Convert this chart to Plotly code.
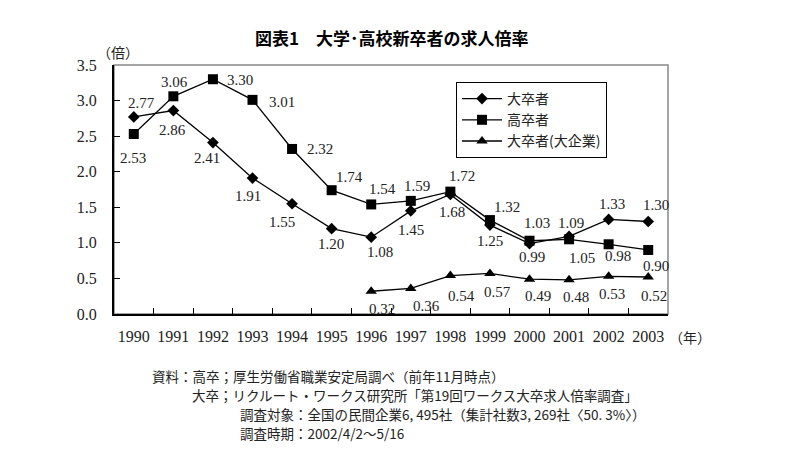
import plotly.graph_objects as go

years = ["1990", "1991", "1992", "1993", "1994", "1995", "1996", "1997",
         "1998", "1999", "2000", "2001", "2002", "2003"]
daisotsu = [2.77, 2.86, 2.41, 1.91, 1.55, 1.20, 1.08, 1.45, 1.68, 1.25, 0.99, 1.09, 1.33, 1.30]
kousotsu = [2.53, 3.06, 3.30, 3.01, 2.32, 1.74, 1.54, 1.59, 1.72, 1.32, 1.03, 1.05, 0.98, 0.90]
daikigyou = [None, None, None, None, None, None, 0.32, 0.36, 0.54, 0.57, 0.49, 0.48, 0.53, 0.52]
series_names = ["大卒者", "高卒者", "大卒者(大企業)"]
y_ticks = [0.0, 0.5, 1.0, 1.5, 2.0, 2.5, 3.0, 3.5]

# label offsets (pixels) per point: (xshift, yshift)
off_dai = [(8, 14), (-1, -19), (-6, -15), (-5, -18), (-10, -18), (-1, -15), (9, -15),
           (0, -19), (2, -18), (0, -16), (2, -13), (2, 13), (3, 15), (8, 17)]
off_kou = [(-1, -24), (1, 14), (27, -1), (29, -2), (28, 0), (18, 13), (11, 15),
           (6, 15), (12, 16), (17, 13), (7, 18), (13, -19), (9, -12), (8, -16)]
off_kig = [None] * 6 + [(11, -18), (16, -18), (11, -20), (8, -19), (8, -17), (7, -17), (3, -18), (6, -19)]

SERIF = "Liberation Serif, Noto Sans CJK JP, serif"
JP = "Noto Sans CJK JP, sans-serif"

OFF = 8  # page body margin of the browser
W, H = 799 - OFF, 458 - OFF
L, R, T, B = 114 - OFF, 668 - OFF, 65 - OFF, 314 - OFF
PW, PH = R - L, B - T


def px(xp):
    return (xp - OFF - L) / PW


def py(yp):
    return (B - (yp - OFF)) / PH


fig = go.Figure()
symbols = ["diamond", "square", "triangle-up"]
sizes = [9, 10, 10]
for name, vals, sym, sz in zip(series_names, [daisotsu, kousotsu, daikigyou], symbols, sizes):
    fig.add_trace(go.Scatter(
        x=years, y=vals, name=name, mode="lines+markers",
        line=dict(color="black", width=1.3),
        marker=dict(symbol=sym, size=sz, color="black"),
        connectgaps=False,
    ))

annotations = []
for vals, offs in [(daisotsu, off_dai), (kousotsu, off_kou), (daikigyou, off_kig)]:
    for i, (v, o) in enumerate(zip(vals, offs)):
        if v is None:
            continue
        annotations.append(dict(
            x=i, y=v, xref="x", yref="y", text=f"{v:.2f}", showarrow=False,
            xanchor="center", yanchor="middle",
            xshift=o[0], yshift=o[1], font=dict(family=SERIF, size=15, color="#222")))

annotations += [
    dict(xref="paper", yref="paper", x=px(392), y=py(38), xanchor="center", yanchor="middle",
         text="<b>図表1　大学･高校新卒者の求人倍率</b>", showarrow=False,
         font=dict(family=JP, size=17, color="black")),
    dict(xref="paper", yref="paper", x=px(118), y=py(52), xanchor="center", yanchor="middle",
         text="（倍）", showarrow=False, font=dict(family=JP, size=14, color="#222")),
    dict(xref="paper", yref="paper", x=px(690), y=py(337), xanchor="center", yanchor="middle",
         text="（年）", showarrow=False, font=dict(family=JP, size=14, color="#222")),
]
foot = [
    (150, 376, "資料：高卒；厚生労働省職業安定局調べ（前年11月時点）"),
    (190, 395, "大卒；リクルート・ワークス研究所「第19回ワークス大卒求人倍率調査」"),
    (238, 414, "調査対象：全国の民間企業6, 495社（集計社数3, 269社〈50. 3%〉）"),
    (238, 433, "調査時期：2002/4/2～5/16"),
]
for x0, yc, t in foot:
    annotations.append(dict(xref="paper", yref="paper", x=px(x0), y=py(yc),
                            xanchor="left", yanchor="middle", text=t,
                            showarrow=False, font=dict(family=JP, size=13.5, color="#222")))

fig.update_layout(
    width=W, height=H,
    margin=dict(l=L, r=W - R, t=T, b=H - B, autoexpand=False),
    paper_bgcolor="white", plot_bgcolor="white",
    showlegend=True,
    legend=dict(x=px(456), y=py(82), xanchor="left", yanchor="top",
                bordercolor="black", borderwidth=1, bgcolor="white",
                font=dict(family=JP, size=14, color="#222"), tracegroupgap=0,
                itemwidth=40),
    xaxis=dict(type="category", tickson="boundaries", ticks="inside", ticklen=6,
               tickcolor="black", showline=True, linecolor="black", linewidth=2,
               showgrid=False, tickfont=dict(family=SERIF, size=16, color="#222"),
               tickangle=0, automargin=False,
               ticklabelstandoff=7, range=[-0.5, 13.5]),
    yaxis=dict(range=[0, 3.5], tickvals=y_ticks, ticktext=[f"{t:.1f}" for t in y_ticks],
               ticks="inside", ticklen=6, tickcolor="black", showline=True,
               linecolor="black", linewidth=2, showgrid=False, zeroline=False,
               automargin=False,
               tickfont=dict(family=SERIF, size=16, color="#222"), ticklabelstandoff=12),
    shapes=[dict(type="rect", xref="paper", yref="paper", x0=0, y0=0, x1=1, y1=1,
                 line=dict(color="#888", width=1.5), layer="below")],
    annotations=annotations,
)

fig.write_html("out.html")
